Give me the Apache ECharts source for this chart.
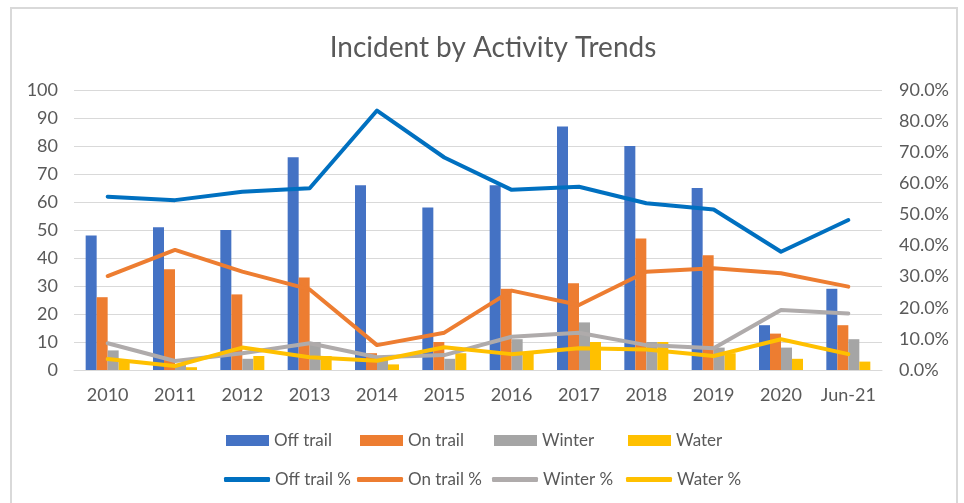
<!DOCTYPE html>
<html>
<head>
<meta charset="utf-8">
<script src="https://cdn.jsdelivr.net/npm/echarts@6/dist/echarts.min.js"></script>
<style>
html,body{margin:0;padding:0;background:#fff;}
#chart{width:964px;height:503px;}
</style>
</head>
<body>
<div id="chart"></div>
<script>
var categories = ['2010','2011','2012','2013','2014','2015','2016','2017','2018','2019','2020','Jun-21'];
var offTrail = [48, 51, 50, 76, 66, 58, 66, 87, 80, 65, 16, 29];
var onTrail  = [26, 36, 27, 33, 6, 10, 29, 31, 47, 41, 13, 16];
var winter   = [7, 2, 4, 10, 4, 4, 11, 17, 10, 8, 8, 11];
var water    = [3, 1, 5, 5, 2, 6, 6, 10, 10, 6, 4, 3];
var offTrailPct = [55.7, 54.6, 57.3, 58.4, 83.4, 68.3, 57.9, 58.9, 53.6, 51.6, 38.0, 48.2];
var onTrailPct  = [30.2, 38.6, 31.6, 25.9, 8.0, 12.0, 25.5, 20.9, 31.6, 32.7, 31.1, 26.8];
var winterPct   = [8.6, 2.9, 5.4, 8.6, 4.1, 4.8, 10.7, 12.0, 8.0, 7.0, 19.3, 18.2];
var waterPct    = [3.5, 1.3, 7.2, 4.1, 3.0, 7.3, 5.1, 7.0, 6.6, 4.5, 9.9, 5.1];

var FONT = 'Lato, "Open Sans", sans-serif';
var TXT = '#595959';

var chart = echarts.init(document.getElementById('chart'), null, {renderer:'canvas'});

function barSeries(name, data, color){
  return {name:name, type:'bar', data:data, barWidth:11, barGap:'0%',
    itemStyle:{color:color}, yAxisIndex:0, z:2};
}
function lineSeries(name, data, color){
  return {name:name, type:'line', data:data, yAxisIndex:1, symbol:'none',
    lineStyle:{color:color, width:4, cap:'round', join:'round'}, itemStyle:{color:color}, z:5};
}
function legendItem(name, left, top, isLine){
  return {data:[name], left:left, top:top, padding:0, itemWidth: isLine?46:43, itemHeight: isLine?5:11,
    icon: isLine?'roundRect':'rect', itemGap:0,
    textStyle:{fontFamily:FONT, fontSize:17, color:TXT}, selectedMode:false};
}

var option = {
  animation:false,
  backgroundColor:'#fff',
  title:{text:'Incident by Activity Trends', left:488, textAlign:'center', top:29,
    textStyle:{fontFamily:FONT, fontSize:28, fontWeight:'normal', color:TXT}},
  graphic:[{type:'rect', shape:{x:11, y:8, width:946, height:500},
    style:{fill:'none', stroke:'#d9d9d9', lineWidth:2}, silent:true}],
  legend:[
    legendItem('Off trail', 226, 432, false),
    legendItem('On trail', 360, 432, false),
    legendItem('Winter', 494, 432, false),
    legendItem('Water', 628, 432, false),
    legendItem('Off trail %', 224, 471, true),
    legendItem('On trail %', 357, 471, true),
    legendItem('Winter %', 492, 471, true),
    legendItem('Water %', 626, 471, true)
  ],
  grid:{left:74, right:82, top:90, bottom:133, containLabel:false},
  xAxis:{type:'category', data:categories,
    axisLine:{lineStyle:{color:'#d9d9d9', width:1}}, axisTick:{show:false},
    axisLabel:{interval:0, fontFamily:FONT, fontSize:18, color:TXT, margin:16}},
  yAxis:[
    {type:'value', min:0, max:100, interval:10,
     axisLine:{show:false}, axisTick:{show:false},
     splitLine:{lineStyle:{color:'#d9d9d9', width:1}},
     axisLabel:{fontFamily:FONT, fontSize:18, color:TXT, margin:16}},
    {type:'value', min:0, max:90, interval:10,
     axisLine:{show:false}, axisTick:{show:false}, splitLine:{show:false},
     axisLabel:{fontFamily:FONT, fontSize:18, color:TXT, margin:17,
       formatter:function(v){return v.toFixed(1)+'%';}}}
  ],
  series:[
    barSeries('Off trail', offTrail, '#4472C4'),
    barSeries('On trail', onTrail, '#ED7D31'),
    barSeries('Winter', winter, '#A5A5A5'),
    barSeries('Water', water, '#FFC000'),
    lineSeries('Off trail %', offTrailPct, '#0070C0'),
    lineSeries('On trail %', onTrailPct, '#ED7D31'),
    lineSeries('Winter %', winterPct, '#AFABAB'),
    lineSeries('Water %', waterPct, '#FFC000')
  ]
};
chart.setOption(option);
</script>
</body>
</html>
